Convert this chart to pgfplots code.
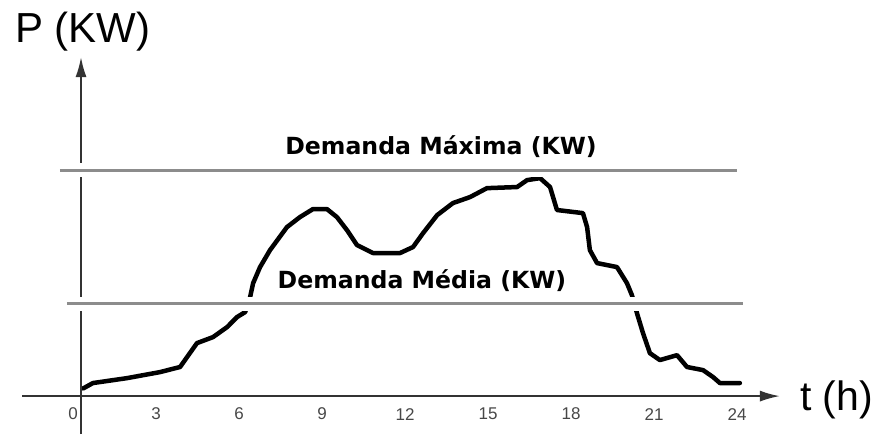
\documentclass[border=0pt]{standalone}
\usepackage{fontspec}
\setmainfont{Liberation Sans}
\newfontfamily\dvs{DejaVu Sans}
\usepackage{pgfplots}
\pgfplotsset{compat=1.18}
\usetikzlibrary{arrows.meta}

% load curve: t in hours, P in % of max demand
\pgfplotstableread{
t      P
0.37   2.1
0.72   4.5
1.95   6.7
3.14   9.4
3.87   11.7
4.12   16.1
4.48   22.4
5.06   25.1
5.57   29.6
5.93   34.1
6.22   36.3
6.40   43.0
6.51   49.3
6.76   56.5
7.12   64.1
7.73   74.4
8.20   78.9
8.67   82.5
9.18   82.5
9.54   78.9
9.90   73.1
10.26  66.4
10.84  62.8
11.82  62.8
12.29  65.5
12.65  71.7
13.16  79.8
13.73  85.2
14.35  87.9
14.96  91.9
16.05  92.4
16.41  95.5
16.88  96.4
17.24  92.4
17.49  82.1
18.43  80.7
18.58  74.4
18.68  64.1
18.94  58.3
19.66  56.5
20.02  49.3
20.20  43.9
20.38  35.9
20.60  26.9
20.85  17.9
21.21  14.8
21.83  17.0
22.19  11.7
22.77  10.3
23.13  7.2
23.38  4.5
24.10  4.5
}\loadcurve

\begin{document}
\begin{tikzpicture}
\begin{axis}[
    width=877pt, height=434pt, scale only axis,
    xmin=-2.638, xmax=29.057,
    ymin=-18.39, ymax=176.23,
    axis line style={draw=none},
    major tick length=0pt,
    xtick={0,3,...,24}, ytick=\empty,
    xticklabel style={anchor=center, yshift=20pt,
        font=\fontsize{17}{19}\selectfont, text=black!72},
    /pgf/number format/assume math mode=true,
    clip=false,
]
% load curve
\addplot[black, line width=4.5pt, line join=round, line cap=round]
    table[x=t, y=P] {\loadcurve};

% axes
\draw[black!80, line width=2pt, -{Latex[length=20pt,width=11pt]}]
    (axis cs:-1.84,-1.35) -- (axis cs:25.55,-1.35);
\draw[black!80, line width=2pt, -{Latex[length=20pt,width=11pt]}]
    (axis cs:0.29,-18.39) -- (axis cs:0.29,150.7);

% demand levels
\addplot[white, line width=14pt] coordinates {(-0.47,100) (24.0,100)};
\addplot[white, line width=14pt] coordinates {(-0.22,40) (24.2,40)};
\addplot[black!45, line width=3pt] coordinates {(-0.47,100) (24.0,100)};
\addplot[black!45, line width=3pt] coordinates {(-0.22,40) (24.2,40)};

\node[anchor=base, inner sep=0pt, font=\dvs\bfseries\fontsize{23.6}{26}\selectfont]
    at (axis cs:13.30,107.2) {Demanda Máxima (KW)};
\node[anchor=base, inner sep=0pt, font=\dvs\bfseries\fontsize{23.6}{26}\selectfont]
    at (axis cs:12.61,47.1) {Demanda Média (KW)};

\node[anchor=base west, inner sep=0pt, font=\fontsize{42}{46}\selectfont]
    at (axis cs:-2.096,157.4) {P (KW)};
\node[anchor=base west, inner sep=0pt, font=\fontsize{41}{45}\selectfont]
    at (axis cs:26.27,-7.62) {t (h)};
\end{axis}
\end{tikzpicture}
\end{document}
